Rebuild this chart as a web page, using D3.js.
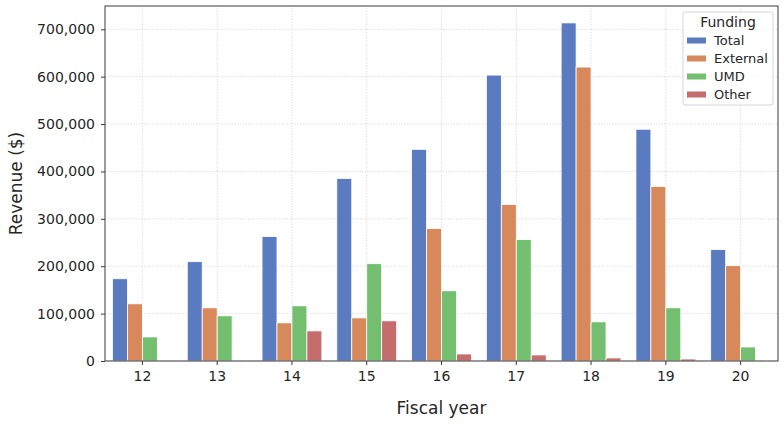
<!DOCTYPE html>
<html>
<head>
<meta charset="utf-8">
<script src="https://cdn.jsdelivr.net/npm/d3@7"></script>
<style>
  body { margin: 0; background: #fff; }
  text { font-family: "DejaVu Sans", sans-serif; fill: #262626; }
</style>
</head>
<body>
<script>
const years = ["12", "13", "14", "15", "16", "17", "18", "19", "20"];
const seriesNames = ["Total", "External", "UMD", "Other"];
const total = [173600, 209600, 262500, 385300, 446700, 603400, 713500, 489100, 235000];
const external = [120700, 112200, 80500, 91000, 279500, 330300, 620300, 368400, 201100];
const umd = [50800, 95300, 116400, 205400, 148200, 256200, 82600, 112200, 29600];
const other = [0, 0, 63500, 84700, 14800, 12700, 6400, 4200, 0];
const colors = ["#5a7bc0", "#d7895c", "#73bf6f", "#c56c6c"];
const yTicks = [0, 100000, 200000, 300000, 400000, 500000, 600000, 700000];

const series = [total, external, umd, other];

const width = 784;
const height = 424;
const margin = { top: 6, right: 6, bottom: 63, left: 105 };

const svg = d3.select("body")
  .append("svg")
  .attr("width", width)
  .attr("height", height);

const x = d3.scaleBand()
  .domain(years)
  .range([margin.left, width - margin.right])
  .paddingInner(0.2)
  .paddingOuter(0.1);

const xSub = d3.scaleBand()
  .domain(seriesNames)
  .range([0, x.bandwidth()]);

const y = d3.scaleLinear()
  .domain([0, 749175])
  .range([height - margin.bottom, margin.top]);

// grid
svg.append("g")
  .selectAll("line")
  .data(yTicks)
  .enter()
  .append("line")
  .attr("x1", margin.left)
  .attr("x2", width - margin.right)
  .attr("y1", (d) => y(d))
  .attr("y2", (d) => y(d))
  .attr("stroke", "#cccccc")
  .attr("stroke-width", 0.8)
  .attr("stroke-dasharray", "1,1.6");

svg.append("g")
  .selectAll("line")
  .data(years)
  .enter()
  .append("line")
  .attr("x1", (d) => x(d) + x.bandwidth() / 2)
  .attr("x2", (d) => x(d) + x.bandwidth() / 2)
  .attr("y1", margin.top)
  .attr("y2", height - margin.bottom)
  .attr("stroke", "#cccccc")
  .attr("stroke-width", 0.8)
  .attr("stroke-dasharray", "1,1.6");

// bars
series.forEach((values, i) => {
  svg.append("g")
    .selectAll("rect")
    .data(values)
    .enter()
    .append("rect")
    .attr("x", (d, j) => x(years[j]) + xSub(seriesNames[i]))
    .attr("y", (d) => y(d))
    .attr("width", xSub.bandwidth())
    .attr("height", (d) => y(0) - y(d))
    .attr("fill", colors[i])
    .attr("stroke", "#fff")
    .attr("stroke-width", 0.8);
});

// axes
const xAxis = d3.axisBottom(x).tickSize(4).tickPadding(6);
const gx = svg.append("g")
  .attr("transform", "translate(0," + (height - margin.bottom) + ")")
  .call(xAxis);

const yAxis = d3.axisLeft(y)
  .tickValues(yTicks)
  .tickFormat(d3.format(","))
  .tickSize(4)
  .tickPadding(6);
const gy = svg.append("g")
  .attr("transform", "translate(" + margin.left + ",0)")
  .call(yAxis);

[gx, gy].forEach((g) => {
  g.select(".domain").remove();
  g.selectAll(".tick line").attr("stroke", "#3a3a3a").attr("stroke-width", 1);
  g.selectAll(".tick text")
    .attr("font-size", 14)
    .attr("font-family", "DejaVu Sans, sans-serif")
    .attr("fill", "#262626");
});

// frame
svg.append("rect")
  .attr("x", margin.left)
  .attr("y", margin.top)
  .attr("width", width - margin.left - margin.right)
  .attr("height", height - margin.top - margin.bottom)
  .attr("fill", "none")
  .attr("stroke", "#3a3a3a")
  .attr("stroke-width", 1);

// axis labels
svg.append("text")
  .attr("x", (margin.left + width - margin.right) / 2)
  .attr("y", 414)
  .attr("text-anchor", "middle")
  .attr("font-size", 17)
  .text("Fiscal year");

svg.append("text")
  .attr("transform", "translate(22," + (margin.top + height - margin.bottom) / 2 + ") rotate(-90)")
  .attr("text-anchor", "middle")
  .attr("font-size", 17)
  .text("Revenue ($)");

// legend
const lg = svg.append("g").attr("transform", "translate(683,12)");
lg.append("rect")
  .attr("width", 90)
  .attr("height", 93)
  .attr("rx", 2)
  .attr("fill", "#fff")
  .attr("fill-opacity", 0.8)
  .attr("stroke", "#d6d6d6");
lg.append("text")
  .attr("x", 45)
  .attr("y", 15)
  .attr("text-anchor", "middle")
  .attr("font-size", 14)
  .text("Funding");

const items = lg.selectAll(".item")
  .data(seriesNames)
  .enter()
  .append("g")
  .attr("transform", (d, i) => "translate(4," + (28.5 + i * 18) + ")");
items.append("rect")
  .attr("width", 19)
  .attr("height", 6)
  .attr("y", -3)
  .attr("fill", (d, i) => colors[i]);
items.append("text")
  .attr("x", 27)
  .attr("dy", "0.35em")
  .attr("font-size", 13)
  .text((d) => d);
</script>
</body>
</html>
